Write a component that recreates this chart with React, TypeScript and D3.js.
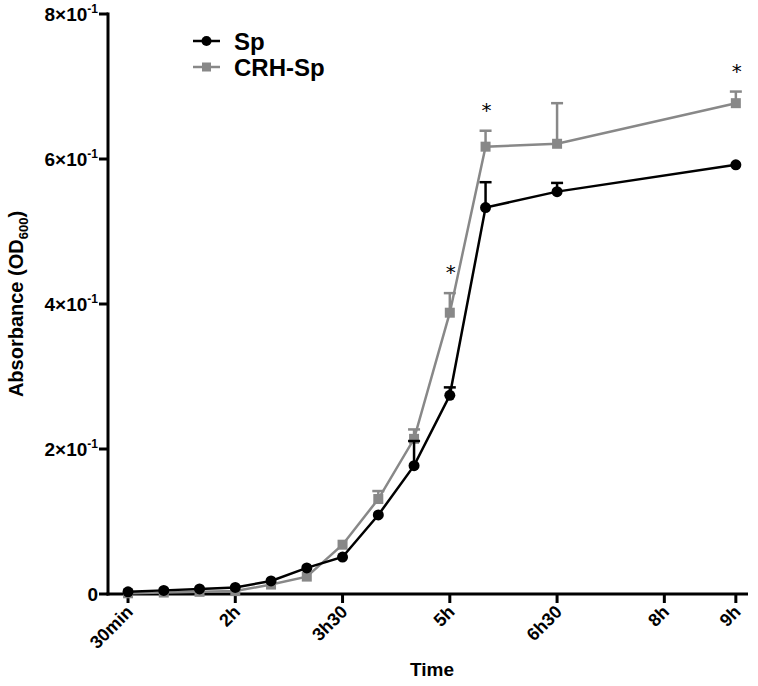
import React, { useEffect, useRef } from 'react';
import * as d3 from 'd3';

// time in hours
const times = [0.5, 1, 1.5, 2, 2.5, 3, 3.5, 4, 4.5, 5, 5.5, 6.5, 9];
const spMean = [0.003, 0.005, 0.007, 0.009, 0.018, 0.036, 0.051, 0.109, 0.177, 0.274, 0.533, 0.555, 0.592];
const spErr = [0, 0, 0, 0, 0, 0, 0, 0, 0.034, 0.011, 0.035, 0.012, 0];
const crhMean = [0.001, 0.002, 0.003, 0.004, 0.013, 0.024, 0.068, 0.131, 0.214, 0.388, 0.617, 0.621, 0.677];
const crhErr = [0, 0, 0, 0, 0, 0, 0, 0.011, 0.013, 0.027, 0.022, 0.056, 0.016];
const starTimes = [5, 5.5, 9];
const xTicks = [0.5, 2, 3.5, 5, 6.5, 8, 9];
const xTickLabels = ['30min', '2h', '3h30', '5h', '6h30', '8h', '9h'];
const yTicks = [0, 0.2, 0.4, 0.6, 0.8];
const yTickMant = ['0', '2', '4', '6', '8'];

const W = 758;
const H = 686;
const FONT = '"Liberation Sans", Arial, sans-serif';
const GREY = '#888888';

export default function App() {
  const ref = useRef<SVGSVGElement>(null);

  useEffect(() => {
    const svg = d3.select(ref.current);
    svg.selectAll('*').remove();
    svg.style('font-family', FONT);

    const x = d3.scaleLinear().domain([0.22, 9.17]).range([108, 748]);
    const y = d3.scaleLinear().domain([0, 0.8]).range([594, 14]);

    // axes
    const ax = svg.append('g').attr('stroke', '#000').attr('stroke-width', 3).attr('fill', 'none');
    ax.append('line').attr('x1', x.range()[0]).attr('x2', x.range()[0]).attr('y1', y(0) + 1.5).attr('y2', y(0.8) - 1.5);
    ax.append('line').attr('x1', x.range()[0] - 1.5).attr('x2', x.range()[1]).attr('y1', y(0)).attr('y2', y(0));

    yTicks.forEach((t, i) => {
      ax.append('line').attr('x1', x.range()[0] - 9).attr('x2', x.range()[0]).attr('y1', y(t)).attr('y2', y(t));
      const txt = svg.append('text')
        .attr('x', x.range()[0] - 10)
        .attr('y', y(t) + 7)
        .attr('text-anchor', 'end')
        .attr('font-weight', 'bold')
        .attr('font-size', 19);
      if (t === 0) {
        txt.text('0');
      } else {
        txt.append('tspan').text(`${yTickMant[i]}\u00d710`);
        txt.append('tspan').attr('dy', -8).attr('font-size', 12).text('-1');
      }
    });

    xTicks.forEach((t, i) => {
      ax.append('line').attr('x1', x(t)).attr('x2', x(t)).attr('y1', y(0)).attr('y2', y(0) + 9);
      svg.append('text')
        .attr('transform', `translate(${x(t) + 6},${y(0) + 19}) rotate(-45)`)
        .attr('text-anchor', 'end')
        .attr('font-weight', 'bold')
        .attr('font-size', 18)
        .text(xTickLabels[i]);
    });

    // axis titles
    const yt = svg.append('text')
      .attr('transform', `translate(23,${(y(0) + y(0.8)) / 2}) rotate(-90)`)
      .attr('text-anchor', 'middle')
      .attr('font-weight', 'bold')
      .attr('font-size', 20);
    yt.append('tspan').text('Absorbance (OD');
    yt.append('tspan').attr('dy', 5).attr('font-size', 13).text('600');
    yt.append('tspan').attr('dy', -5).text(')');

    svg.append('text')
      .attr('x', 432).attr('y', 676)
      .attr('text-anchor', 'middle')
      .attr('font-weight', 'bold')
      .attr('font-size', 19)
      .text('Time');

    const line = d3.line<number>().x((_, i) => x(times[i])).y(d => y(d));

    const drawSeries = (mean: number[], err: number[], color: string, shape: 'circle' | 'square') => {
      const g = svg.append('g');
      // error bars (upper only)
      mean.forEach((m, i) => {
        if (!err[i]) return;
        g.append('line').attr('x1', x(times[i])).attr('x2', x(times[i]))
          .attr('y1', y(m)).attr('y2', y(m + err[i]))
          .attr('stroke', color).attr('stroke-width', 2.5);
        g.append('line').attr('x1', x(times[i]) - 6).attr('x2', x(times[i]) + 6)
          .attr('y1', y(m + err[i])).attr('y2', y(m + err[i]))
          .attr('stroke', color).attr('stroke-width', 2.5);
      });
      g.append('path').attr('d', line(mean)).attr('fill', 'none')
        .attr('stroke', color).attr('stroke-width', 2.5);
      mean.forEach((m, i) => {
        if (shape === 'circle') {
          g.append('circle').attr('cx', x(times[i])).attr('cy', y(m)).attr('r', 5.5).attr('fill', color);
        } else {
          g.append('rect').attr('x', x(times[i]) - 5).attr('y', y(m) - 5)
            .attr('width', 10).attr('height', 10).attr('fill', color);
        }
      });
    };

    drawSeries(crhMean, crhErr, GREY, 'square');
    drawSeries(spMean, spErr, '#000', 'circle');

    // significance stars
    starTimes.forEach(t => {
      const i = times.indexOf(t);
      svg.append('text')
        .attr('x', x(t) + 1)
        .attr('y', y(crhMean[i] + crhErr[i]) - 14)
        .attr('text-anchor', 'middle')
        .attr('font-size', 20)
        .attr('fill', '#000')
        .attr('font-family', '"DejaVu Sans", sans-serif')
        .text('*');
    });

    // legend
    const legend = [
      { label: 'Sp', color: '#000', shape: 'circle' },
      { label: 'CRH-Sp', color: GREY, shape: 'square' },
    ];
    legend.forEach((l, i) => {
      const ly = 41 + i * 26;
      svg.append('line').attr('x1', 193).attr('x2', 220).attr('y1', ly).attr('y2', ly)
        .attr('stroke', l.color).attr('stroke-width', 2.5);
      if (l.shape === 'circle') {
        svg.append('circle').attr('cx', 206.5).attr('cy', ly).attr('r', 5).attr('fill', l.color);
      } else {
        svg.append('rect').attr('x', 202).attr('y', ly - 4.5).attr('width', 9).attr('height', 9).attr('fill', l.color);
      }
      svg.append('text').attr('x', 234).attr('y', ly + 9)
        .attr('font-weight', 'bold').attr('font-size', 24).text(l.label);
    });
  }, []);

  return (
    <svg ref={ref} width={W} height={H} style={{ position: 'absolute', left: 0, top: 0, background: '#fff' }} />
  );
}
